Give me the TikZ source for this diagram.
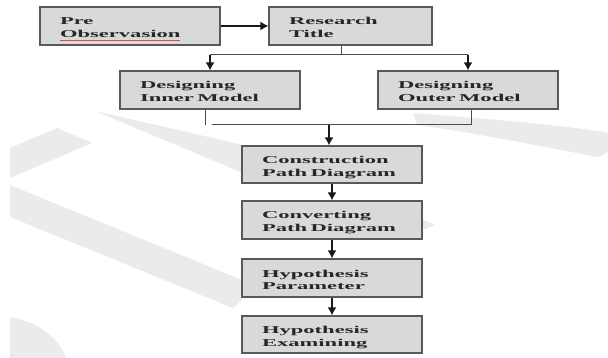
\documentclass[tikz,border=0pt]{standalone}
\usepackage{fontspec}
\usepackage{xcolor}
\usepackage{tikz}
\usetikzlibrary{arrows.meta,positioning}
\newfontfamily\boxfont[FakeStretch=2.15]{Liberation Serif}
\newcommand{\spellmark}[1]{\leavevmode\setbox0\hbox{#1}\rlap{\textcolor{red!80!black!70!white}{\rule[-0.5ex]{\wd0}{0.7pt}}}\box0}
\tikzstyle{stage} = [draw=black!65, line width=1.2pt, fill=black!15, text=black!85, text width=140pt, text height=13pt, text depth=15pt, inner xsep=20pt, minimum height=38pt, align=left, font=\boxfont\bfseries\fontsize{10.5}{13}\selectfont]
\tikzstyle{arrow} = [line width=1.4pt,->,>={Latex[length=8pt,width=9pt]},color=black!90]
\tikzstyle{link} = [line width=1pt,color=black!70]
\tikzstyle{wm} = [fill=black!8]

\begin{document}
\begin{tikzpicture}[x=1pt,y=-1pt]
\fill[white] (0,0) rectangle (608,358);
\useasboundingbox (0,0) rectangle (608,358);

% Watermark
\fill[wm] (95,111) -- (243,145) -- (243,173) -- cycle;
\fill[wm] (10,148) -- (57,128) -- (92,143) -- (10,178) -- cycle;
\fill[wm] (10,185) -- (242,280) -- (242,300) -- (233,308) -- (10,217) -- cycle;
\fill[wm] (10,317) .. controls (40,322) and (60,340) .. (66,358) -- (10,358) -- cycle;
\fill[wm] (413,113) .. controls (470,118) and (560,124) .. (608,133) -- (608,152) -- (598,157) .. controls (540,146) and (470,132) .. (417,125) -- cycle;
\fill[wm] (423,220) -- (435,225) -- (423,230) -- cycle;

% Boxes
\node[stage] (pre) at (130,26) {Pre\\\spellmark{Observasion}};
\node[stage, text width=123pt] (title) at (350.5,26) {Research\\Title};
\node[stage] (inner) at (210,90) {Designing\\Inner Model};
\node[stage] (outer) at (468,90) {Designing\\Outer Model};
\node[stage, minimum height=37pt] (cons) at (332,164.5) {Construction\\Path Diagram};
\node[stage] (conv) at (332,220) {Converting\\Path Diagram};
\node[stage] (param) at (332,278) {Hypothesis\\Parameter};
\node[stage, minimum height=37pt] (exam) at (332,334.5) {Hypothesis\\Examining};

% Fork and join points
\coordinate (fork) at (341,55);
\coordinate (joinL) at (205,125);
\coordinate (joinS) at (212,125);
\coordinate (joinR) at (471,125);
\coordinate (joinM) at (329,125);

% Connectors
\draw[arrow] (pre) -- (title);
\draw[link] (title.south -| fork) -- (fork);
\draw[link] (inner.north |- fork) -- (outer.north |- fork);
\draw[arrow] (inner.north |- fork) -- (inner);
\draw[arrow] (outer.north |- fork) -- (outer);
\draw[link] (inner.south -| joinL) -- (joinL);
\draw[link] (outer.south -| joinR) -- (joinR) -- (joinS);
\draw[arrow] (joinM) -- (cons.north -| joinM);
\draw[arrow] (cons) -- (conv);
\draw[arrow] (conv) -- (param);
\draw[arrow] (param) -- (exam);
\end{tikzpicture}
\end{document}
